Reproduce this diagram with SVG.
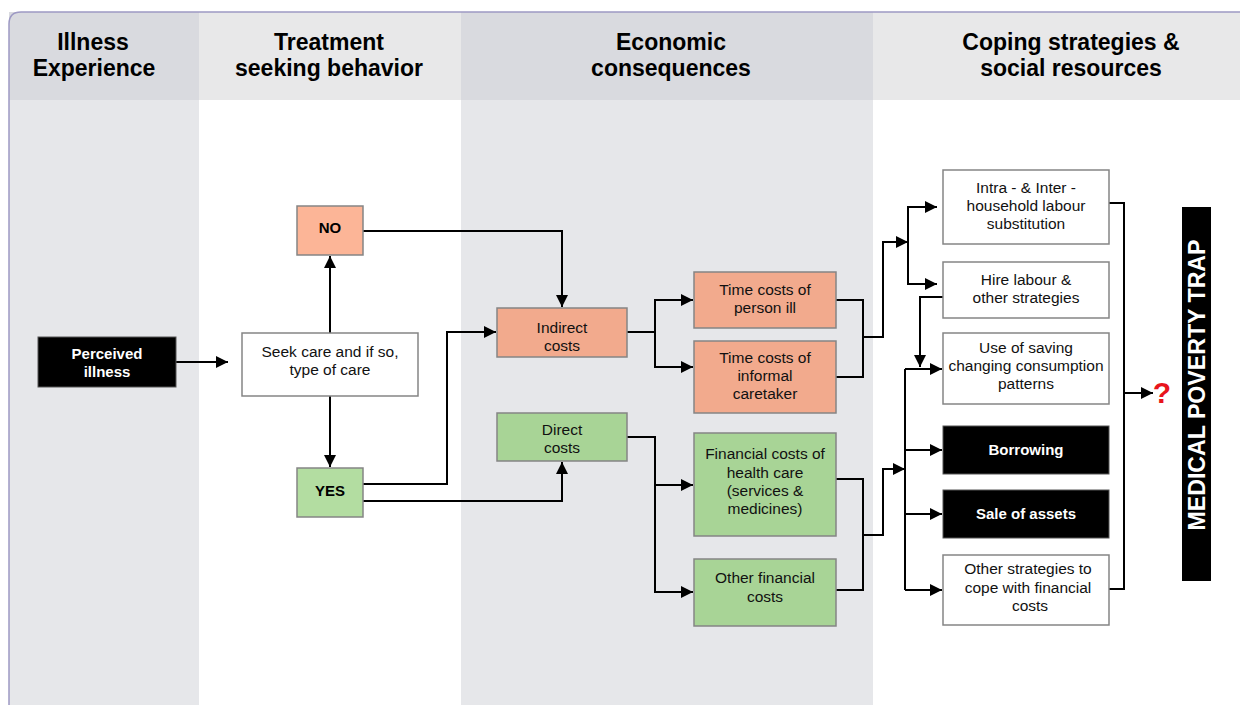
<svg xmlns="http://www.w3.org/2000/svg" width="1240" height="705" viewBox="0 0 1240 705">
<style>
.hd{font-family:"Liberation Sans",Arial,sans-serif;font-size:23px;font-weight:bold;fill:#000;text-anchor:middle}
.t{font-family:"Liberation Sans",Arial,sans-serif;font-size:15.5px;fill:#111;text-anchor:middle}
.b{font-family:"Liberation Sans",Arial,sans-serif;font-size:15px;font-weight:bold;text-anchor:middle}
.box{stroke:#858585;stroke-width:1.5}
.wh{fill:#fff}
.blk{fill:#000;stroke:#555;stroke-width:1}
.sal{fill:#f2aa8d}
.sal2{fill:#fcb597}
.grn{fill:#a8d496}
.grn2{fill:#b3dda1}
.cn{fill:none;stroke:#000;stroke-width:2}
</style>
<defs>
<marker id="ah" markerUnits="userSpaceOnUse" markerWidth="13" markerHeight="12" refX="12" refY="6" orient="auto">
<path d="M0,0 L12,6 L0,12 z" fill="#000"/>
</marker>
</defs>
<rect width="1240" height="705" fill="#fff"/>
<g id="columns">
<rect x="9" y="12" width="190" height="88" fill="#d9dadf"/>
<rect x="9" y="100" width="190" height="605" fill="#e6e7ea"/>
<rect x="199" y="12" width="262" height="88" fill="#e8e8e9"/>
<rect x="199" y="100" width="262" height="605" fill="#fff"/>
<rect x="461" y="12" width="412" height="88" fill="#d9dadf"/>
<rect x="461" y="100" width="412" height="605" fill="#e6e7ea"/>
<rect x="873" y="12" width="367" height="88" fill="#e8e8e9"/>
<rect x="873" y="100" width="367" height="605" fill="#fff"/>
<path d="M9,705 V24 Q9,12 21,12 H1240" fill="none" stroke="#9d99c4" stroke-width="1.5"/>
<text class="hd" x="93" y="50">Illness</text>
<text class="hd" x="94" y="76">Experience</text>
<text class="hd" x="329" y="50">Treatment</text>
<text class="hd" x="329" y="76">seeking behavior</text>
<text class="hd" x="671" y="50">Economic</text>
<text class="hd" x="671" y="76">consequences</text>
<text class="hd" x="1071" y="50">Coping strategies &amp;</text>
<text class="hd" x="1071" y="76">social resources</text>
</g>
<g id="connectors">
<path class="cn" d="M176,362 H228" marker-end="url(#ah)"/>
<path class="cn" d="M330,333 V256" marker-end="url(#ah)"/>
<path class="cn" d="M330,396 V467" marker-end="url(#ah)"/>
<path class="cn" d="M363,231 H562 V307" marker-end="url(#ah)"/>
<path class="cn" d="M363,484 H447 V332 H496" marker-end="url(#ah)"/>
<path class="cn" d="M363,501 H562 V462" marker-end="url(#ah)"/>
<path class="cn" d="M627,332 H655 V300 H693" marker-end="url(#ah)"/>
<path class="cn" d="M655,332 V367 H693" marker-end="url(#ah)"/>
<path class="cn" d="M627,437 H655 V485 H693" marker-end="url(#ah)"/>
<path class="cn" d="M655,485 V592 H693" marker-end="url(#ah)"/>
<path class="cn" d="M836,300 H863 V377 H836"/>
<path class="cn" d="M863,337 H883 V242 H908" marker-end="url(#ah)"/>
<path class="cn" d="M908,242 V207 H937" marker-end="url(#ah)"/>
<path class="cn" d="M908,242 V284 H937" marker-end="url(#ah)"/>
<path class="cn" d="M943,297 H920 V367" marker-end="url(#ah)"/>
<path class="cn" d="M836,479 H863 V590 H836"/>
<path class="cn" d="M863,535 H883 V469 H905" marker-end="url(#ah)"/>
<path class="cn" d="M905,369 V590"/>
<path class="cn" d="M905,369 H942" marker-end="url(#ah)"/>
<path class="cn" d="M905,450 H942" marker-end="url(#ah)"/>
<path class="cn" d="M905,514 H942" marker-end="url(#ah)"/>
<path class="cn" d="M905,590 H942" marker-end="url(#ah)"/>
<path class="cn" d="M1109,203 H1124 V589 H1109"/>
<path class="cn" d="M1124,393 H1153" marker-end="url(#ah)"/>
</g>
<g id="perceived">
<rect class="blk" x="38" y="337" width="138" height="50"/>
<text class="b" fill="#fff" x="107" y="359">Perceived</text>
<text class="b" fill="#fff" x="107" y="377">illness</text>
</g>
<g id="seek">
<rect class="box wh" x="242" y="333" width="176" height="63"/>
<text class="t" x="330" y="357">Seek care and if so,</text>
<text class="t" x="330" y="375">type of care</text>
</g>
<g id="no">
<rect class="box sal2" x="297" y="206" width="66" height="49"/>
<text class="b" fill="#000" x="330" y="233">NO</text>
</g>
<g id="yes">
<rect class="box grn2" x="297" y="468" width="66" height="49"/>
<text class="b" fill="#000" x="330" y="496">YES</text>
</g>
<g id="indirect">
<rect class="box sal" x="497" y="308" width="130" height="49"/>
<text class="t" x="562" y="333">Indirect</text>
<text class="t" x="562" y="351">costs</text>
</g>
<g id="direct">
<rect class="box grn" x="497" y="413" width="130" height="48"/>
<text class="t" x="562" y="435">Direct</text>
<text class="t" x="562" y="453">costs</text>
</g>
<g id="time-ill">
<rect class="box sal" x="694" y="272" width="142" height="56"/>
<text class="t" x="765" y="295">Time costs of</text>
<text class="t" x="765" y="313">person ill</text>
</g>
<g id="time-care">
<rect class="box sal" x="694" y="341" width="142" height="72"/>
<text class="t" x="765" y="363">Time costs of</text>
<text class="t" x="765" y="381">informal</text>
<text class="t" x="765" y="399">caretaker</text>
</g>
<g id="financial">
<rect class="box grn" x="694" y="433" width="142" height="103"/>
<text class="t" x="765" y="459">Financial costs of</text>
<text class="t" x="765" y="477.5">health care</text>
<text class="t" x="765" y="496">(services &amp;</text>
<text class="t" x="765" y="514">medicines)</text>
</g>
<g id="other-financial">
<rect class="box grn" x="694" y="559" width="142" height="67"/>
<text class="t" x="765" y="583">Other financial</text>
<text class="t" x="765" y="602">costs</text>
</g>
<g id="intra">
<rect class="box wh" x="943" y="170" width="166" height="74"/>
<text class="t" x="1026" y="193">Intra - &amp; Inter -</text>
<text class="t" x="1026" y="211">household labour</text>
<text class="t" x="1026" y="229">substitution</text>
</g>
<g id="hire">
<rect class="box wh" x="943" y="262" width="166" height="56"/>
<text class="t" x="1026" y="285">Hire labour &amp;</text>
<text class="t" x="1026" y="303">other strategies</text>
</g>
<g id="saving">
<rect class="box wh" x="943" y="333" width="166" height="71"/>
<text class="t" x="1026" y="353">Use of saving</text>
<text class="t" x="1026" y="371">changing consumption</text>
<text class="t" x="1026" y="389">patterns</text>
</g>
<g id="borrowing">
<rect class="blk" x="943" y="426" width="166" height="48"/>
<text class="b" fill="#fff" x="1026" y="455">Borrowing</text>
</g>
<g id="sale">
<rect class="blk" x="943" y="490" width="166" height="48"/>
<text class="b" fill="#fff" x="1026" y="519">Sale of assets</text>
</g>
<g id="other-strategies">
<rect class="box wh" x="943" y="555" width="166" height="70"/>
<text class="t" x="1028" y="574">Other strategies to</text>
<text class="t" x="1028" y="593">cope with financial</text>
<text class="t" x="1030" y="611">costs</text>
</g>
<g id="question">
<text x="1162" y="403" font-family="Liberation Sans,Arial,sans-serif" font-size="30" font-weight="bold" fill="#e8141c" text-anchor="middle">?</text>
</g>
<g id="poverty-trap">
<rect x="1182" y="207" width="29" height="374" fill="#000"/>
<text transform="translate(1205,385) rotate(-90)" x="0" y="0" font-family="Liberation Sans,Arial,sans-serif" font-size="24" font-weight="bold" fill="#fff" text-anchor="middle" textLength="291" lengthAdjust="spacingAndGlyphs">MEDICAL POVERTY TRAP</text>
</g>
</svg>
